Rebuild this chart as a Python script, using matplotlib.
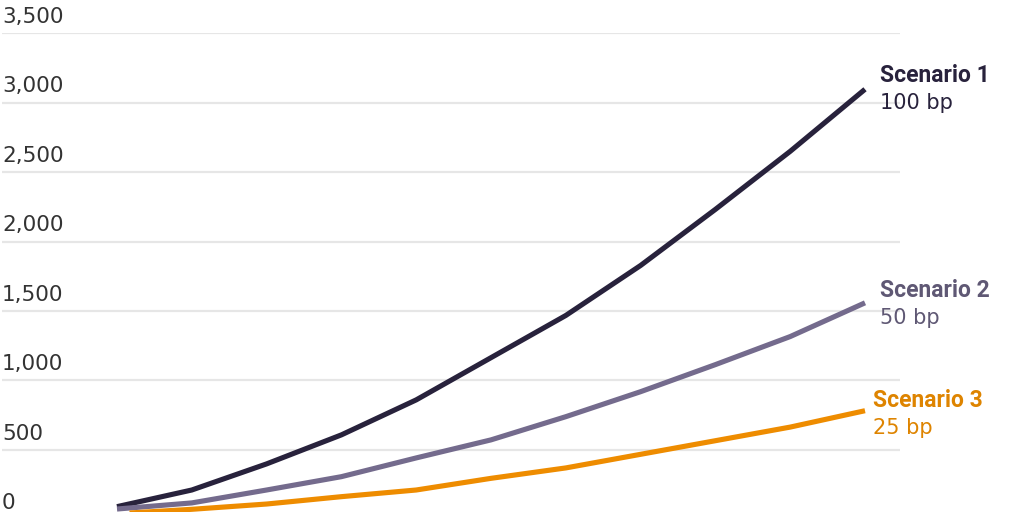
import matplotlib.pyplot as plt
import matplotlib.transforms as mtransforms

# data
periods = list(range(11))
scenario_1 = [91, 211, 399, 608, 860, 1164, 1468, 1828, 2232, 2650, 3097]
scenario_2 = [74, 118, 211, 307, 442, 572, 739, 919, 1114, 1316, 1559]
scenario_3 = [40, 72, 110, 163, 211, 295, 370, 468, 566, 664, 782]
y_ticks = [0, 500, 1000, 1500, 2000, 2500, 3000, 3500]

series = [
    ("Scenario 1", "100 bp", scenario_1, "#28223c", "#28223c"),
    ("Scenario 2", "50 bp", scenario_2, "#746b8d", "#5f5874"),
    ("Scenario 3", "25 bp", scenario_3, "#ee8c00", "#de8400"),
]

plt.rcParams["font.family"] = ["Roboto", "DejaVu Sans"]

W, H = 1024, 512
fig = plt.figure(figsize=(W / 100, H / 100), dpi=100)
# axes in pixel terms: x from 2 to 900, y=0 at 519.3px, y=3500 at 33.3px
ax = fig.add_axes([2 / W, (H - 519.3) / H, 898 / W, (519.3 - 33.3) / H])

px_per_step = 74.8
ax.set_xlim((2 - 117) / px_per_step, (900 - 117) / px_per_step)
ax.set_ylim(0, 3500)

for name, sub, vals, lc, tc in series:
    ax.plot(periods, vals, color=lc, lw=3.7, solid_capstyle="butt", clip_on=False, zorder=3)

# gridlines with labels sitting on top of them
ax.set_yticks(y_ticks)
ax.yaxis.grid(True, color="#e6e6e6", lw=1.6)
ax.tick_params(left=False, bottom=False, labelleft=False, labelbottom=False)
for s in ax.spines.values():
    s.set_visible(False)

trans = mtransforms.blended_transform_factory(ax.transAxes, ax.transData)
for t in y_ticks:
    ax.text(0.0, t + 45, f"{t:,}", transform=trans, ha="left", va="bottom",
            fontsize=15.5, color="#333333", family="DejaVu Sans")

# end labels
label_pos = {
    "Scenario 1": (880, 82),
    "Scenario 2": (880, 297),
    "Scenario 3": (873, 407),
}
for name, sub, vals, lc, tc in series:
    x, y = label_pos[name]
    fig.text(x / W, 1 - y / H, name, ha="left", va="baseline", fontsize=16.5,
             fontweight="bold", color=tc)
    fig.text(x / W, 1 - (y + 27) / H, sub, ha="left", va="baseline", fontsize=15,
             color=tc, family="DejaVu Sans")

fig.savefig("out.png", dpi=100)
